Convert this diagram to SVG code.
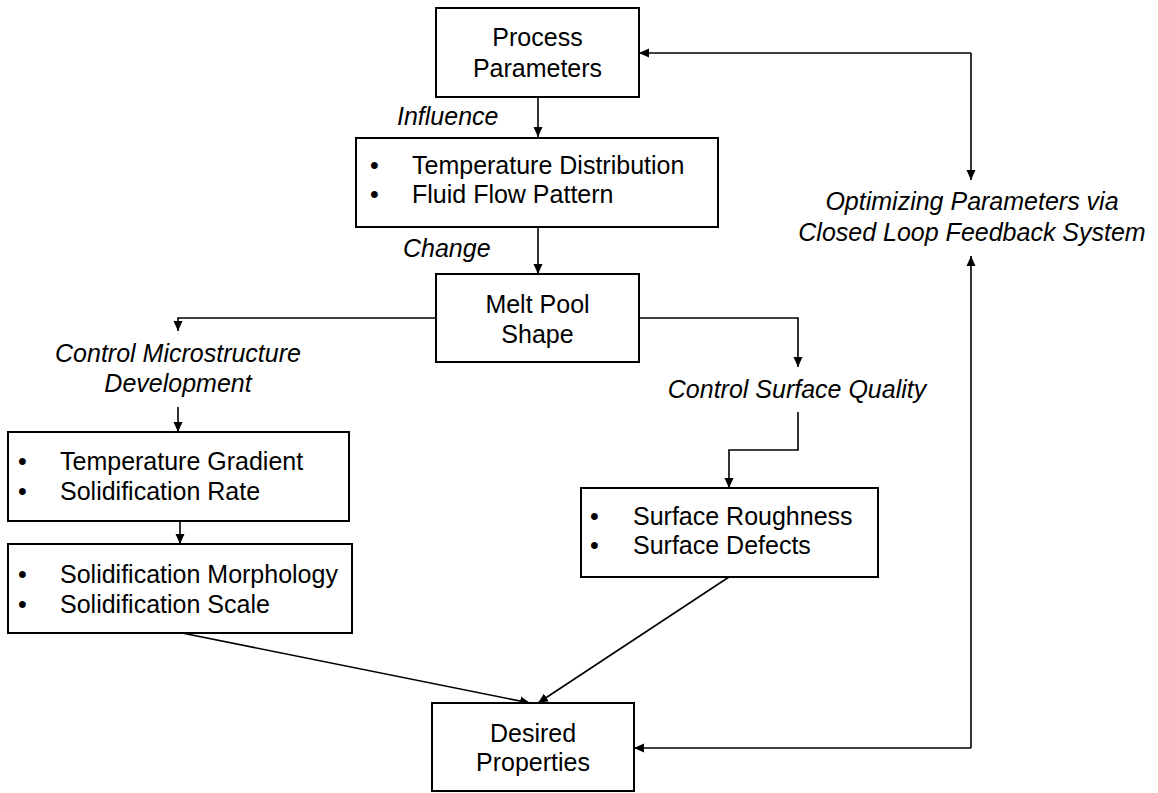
<svg xmlns="http://www.w3.org/2000/svg" width="1158" height="793" viewBox="0 0 1158 793">
<defs>
<marker id="ah" markerWidth="10" markerHeight="10" refX="10" refY="5" orient="auto" markerUnits="userSpaceOnUse">
<path d="M0,0.5 L10,5 L0,9.5 z" fill="#000"/>
</marker>
<style>
.box{fill:#fff;stroke:#000;stroke-width:2}
.t{font-family:"Liberation Sans",Arial,sans-serif;font-size:25px;fill:#000}
.c{text-anchor:middle}
.i{font-style:italic}
.ln{fill:none;stroke:#000;stroke-width:1.6}
</style>
</defs>
<rect width="1158" height="793" fill="#fff"/>
<g id="connectors">
<path class="ln" d="M538,97 V137" marker-end="url(#ah)"/>
<path class="ln" d="M538,227 V274" marker-end="url(#ah)"/>
<path class="ln" d="M436,318 H178 V331" marker-end="url(#ah)"/>
<path class="ln" d="M178,407 V432" marker-end="url(#ah)"/>
<path class="ln" d="M180,521 V544" marker-end="url(#ah)"/>
<path class="ln" d="M639,318 H798 V367" marker-end="url(#ah)"/>
<path class="ln" d="M798,412 V450 H729 V488" marker-end="url(#ah)"/>
<path class="ln" d="M182,633 L530,703" marker-end="url(#ah)"/>
<path class="ln" d="M729,577 L538,703" marker-end="url(#ah)"/>
<path class="ln" d="M971,53 H639" marker-end="url(#ah)"/>
<path class="ln" d="M971,53 V180" marker-end="url(#ah)"/>
<path class="ln" d="M971,748 H634" marker-end="url(#ah)"/>
<path class="ln" d="M971,748 V256" marker-end="url(#ah)"/>
<text class="t i" x="397" y="125">Influence</text>
<text class="t i" x="403" y="257">Change</text>
<text class="t i c" x="178" y="362">Control Microstructure</text>
<text class="t i c" x="178" y="392">Development</text>
<text class="t i c" x="797" y="398">Control Surface Quality</text>
<text class="t i c" x="972" y="210">Optimizing Parameters via</text>
<text class="t i c" x="972" y="241">Closed Loop Feedback System</text>
</g>
<g id="process">
<rect class="box" x="436" y="8" width="203" height="89"/>
<text class="t c" x="537.5" y="46">Process</text>
<text class="t c" x="537.5" y="77">Parameters</text>
</g>
<g id="temperature">
<rect class="box" x="356" y="138" width="362" height="89"/>
<text class="t" x="370" y="174">•</text>
<text class="t" x="412" y="174">Temperature Distribution</text>
<text class="t" x="370" y="203">•</text>
<text class="t" x="412" y="203">Fluid Flow Pattern</text>
</g>
<g id="meltpool">
<rect class="box" x="436" y="274" width="203" height="88"/>
<text class="t c" x="537.5" y="313">Melt Pool</text>
<text class="t c" x="537.5" y="343">Shape</text>
</g>
<g id="gradient">
<rect class="box" x="8" y="432" width="341" height="89"/>
<text class="t" x="18" y="470">•</text>
<text class="t" x="60" y="470">Temperature Gradient</text>
<text class="t" x="18" y="500">•</text>
<text class="t" x="60" y="500">Solidification Rate</text>
</g>
<g id="morphology">
<rect class="box" x="8" y="544" width="344" height="89"/>
<text class="t" x="18" y="583">•</text>
<text class="t" x="60" y="583">Solidification Morphology</text>
<text class="t" x="18" y="613">•</text>
<text class="t" x="60" y="613">Solidification Scale</text>
</g>
<g id="surface">
<rect class="box" x="581" y="488" width="297" height="89"/>
<text class="t" x="590" y="525">•</text>
<text class="t" x="633" y="525">Surface Roughness</text>
<text class="t" x="590" y="554">•</text>
<text class="t" x="633" y="554">Surface Defects</text>
</g>
<g id="desired">
<rect class="box" x="432" y="703" width="202" height="88"/>
<text class="t c" x="533" y="742">Desired</text>
<text class="t c" x="533" y="771">Properties</text>
</g>
</svg>
